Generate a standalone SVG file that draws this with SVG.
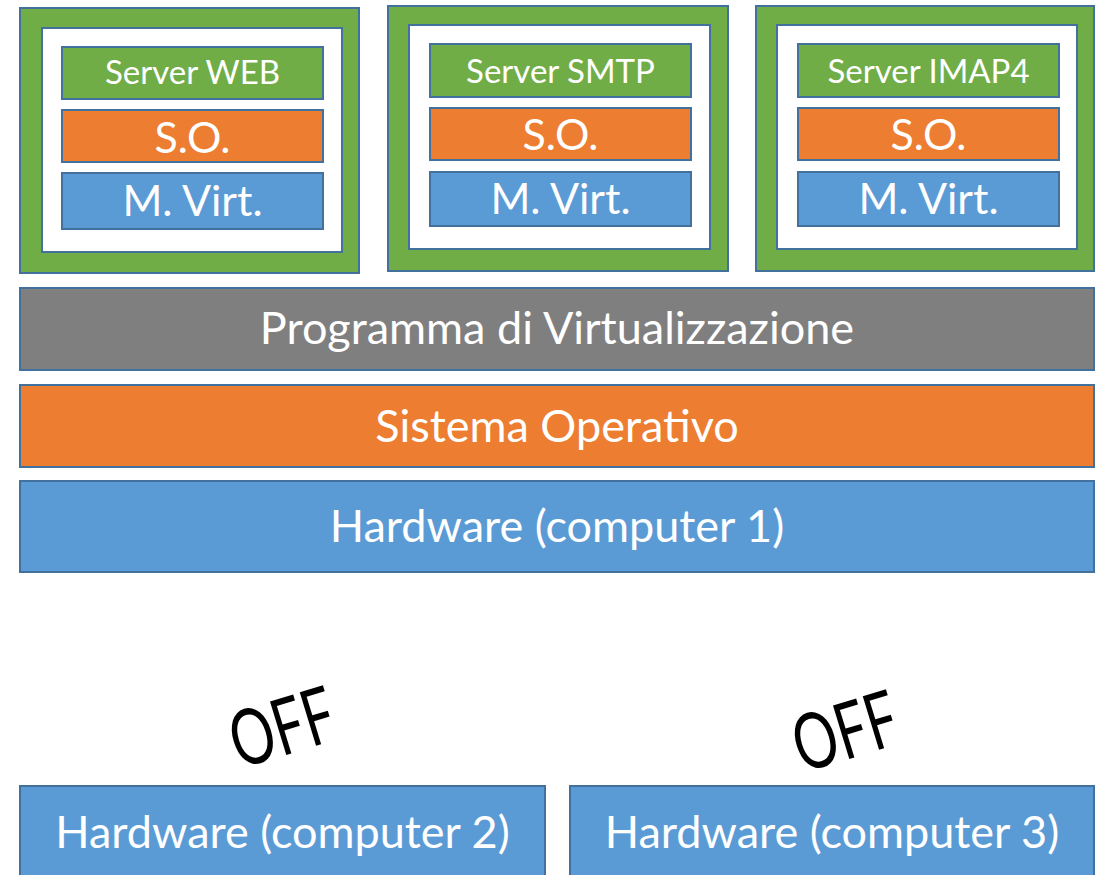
<svg xmlns="http://www.w3.org/2000/svg" width="1104" height="875" viewBox="0 0 1104 875">
<style>
rect{stroke:#41719C;stroke-width:2}
.g{fill:#70AD47}.o{fill:#ED7D31}.b{fill:#5B9BD5}.gr{fill:#7F7F7F}.w{fill:#FFFFFF}
text{font-family:Lato,"Liberation Sans",sans-serif;fill:#FFFFFF;text-anchor:middle}
.s{font-size:33px}.m{font-size:43px}.l{font-size:45px}
.off{font-size:78px;fill:#000000}
</style>
<rect x="0" y="0" width="1104" height="875" fill="#FFFFFF" style="stroke:none"/>
<g id="vm1">
<rect class="g" x="20" y="8" width="339" height="265"/>
<rect class="w" x="42" y="28" width="300" height="224"/>
<rect class="g" x="62" y="47" width="261" height="52"/>
<text class="s" x="192.5" y="84">Server WEB</text>
<rect class="o" x="62" y="110" width="261" height="52"/>
<text class="m" x="192.5" y="153">S.O.</text>
<rect class="b" x="62" y="173" width="261" height="56"/>
<text class="m" x="192.5" y="216">M. Virt.</text>
</g>
<g id="vm2">
<rect class="g" x="388" y="6" width="340" height="265"/>
<rect class="w" x="409" y="25" width="301" height="224"/>
<rect class="g" x="430" y="44" width="261" height="53"/>
<text class="s" x="560.5" y="83">Server SMTP</text>
<rect class="o" x="430" y="108" width="261" height="52"/>
<text class="m" x="560.5" y="150">S.O.</text>
<rect class="b" x="430" y="172" width="261" height="54"/>
<text class="m" x="560.5" y="214">M. Virt.</text>
</g>
<g id="vm3">
<rect class="g" x="756" y="6" width="338" height="265"/>
<rect class="w" x="777" y="25" width="300" height="224"/>
<rect class="g" x="798" y="44" width="261" height="53"/>
<text class="s" x="928.5" y="83">Server IMAP4</text>
<rect class="o" x="798" y="108" width="261" height="52"/>
<text class="m" x="928.5" y="150">S.O.</text>
<rect class="b" x="798" y="172" width="261" height="54"/>
<text class="m" x="928.5" y="214">M. Virt.</text>
</g>
<g id="hypervisor">
<rect class="gr" x="20" y="288" width="1074" height="82"/>
<text class="l" x="557" y="344">Programma di Virtualizzazione</text>
</g>
<g id="os">
<rect class="o" x="20" y="385" width="1074" height="82"/>
<text class="l" x="557" y="442">Sistema Operativo</text>
</g>
<g id="hw1">
<rect class="b" x="20" y="481" width="1074" height="91"/>
<text class="l" x="557" y="542">Hardware (computer 1)</text>
</g>
<g id="hw2">
<rect class="b" x="20" y="786" width="525" height="100"/>
<text class="l" x="282.5" y="848">Hardware (computer 2)</text>
</g>
<g id="hw3">
<rect class="b" x="570" y="786" width="524" height="100"/>
<text class="l" x="832" y="848">Hardware (computer 3)</text>
</g>
<g id="off-labels">
<text class="off" transform="translate(282,727) rotate(-17)" y="28" textLength="106" lengthAdjust="spacingAndGlyphs">OFF</text>
<text class="off" transform="translate(845,731) rotate(-17)" y="28" textLength="106" lengthAdjust="spacingAndGlyphs">OFF</text>
</g>
<g id="connectors"></g>
</svg>
